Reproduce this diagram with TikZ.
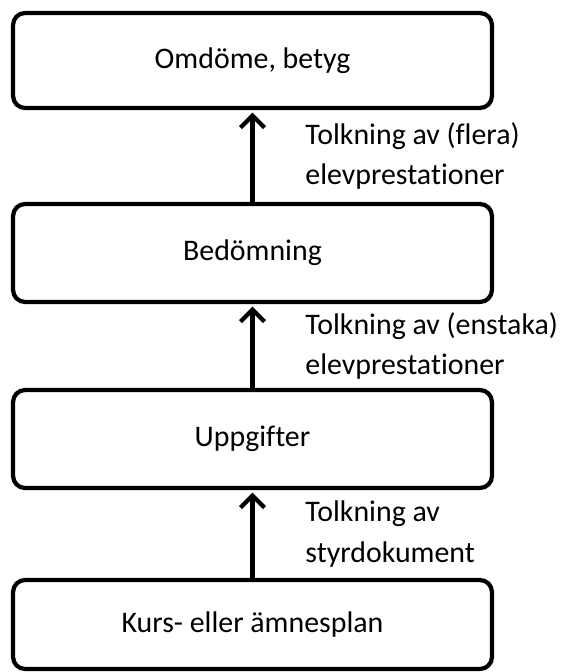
\documentclass[tikz,border=0pt]{standalone}
\usepackage{fontspec}
\setmainfont{Carlito}[Ligatures=NoCommon]
\usetikzlibrary{arrows.meta}

\begin{document}
\begin{tikzpicture}[x=0.02cm, y=-0.02cm,
    box/.style={draw, line width=2.4pt, rounded corners=0.24cm, minimum width=9.58cm, font=\fontsize{17}{23}\selectfont},
    arrow/.style={-{Straight Barb[length=2.4mm, width=4.8mm]}, line width=2.4pt, shorten >=1.5pt},
    lbl/.style={right, xshift=0.9cm, align=left, font=\fontsize{17}{23}\selectfont}]
    \useasboundingbox (0,0) rectangle (563,672);
    % the four steps, from top to bottom
    \node[box, minimum height=1.9cm]  (grade)  at (252.5,60.5)  {Omdöme, betyg};
    \node[box, minimum height=1.96cm] (assess) at (252.5,253)   {Bedömning};
    \node[box, minimum height=1.96cm] (tasks)  at (252.5,439)   {Uppgifter};
    \node[box, minimum height=1.78cm] (plan)   at (252.5,624.5) {Kurs- eller ämnesplan};
    % interpretations between them
    \draw[arrow] (assess) -- (grade) node[lbl, midway] (tolkA) {Tolkning av (flera)\\elevprestationer};
    \draw[arrow] (tasks) -- (assess) node[lbl, midway] (tolkB) {Tolkning av (enstaka)\\elevprestationer};
    \draw[arrow] (plan) -- (tasks) node[lbl, midway] (tolkC) {Tolkning av\\styrdokument};
\end{tikzpicture}
\end{document}
